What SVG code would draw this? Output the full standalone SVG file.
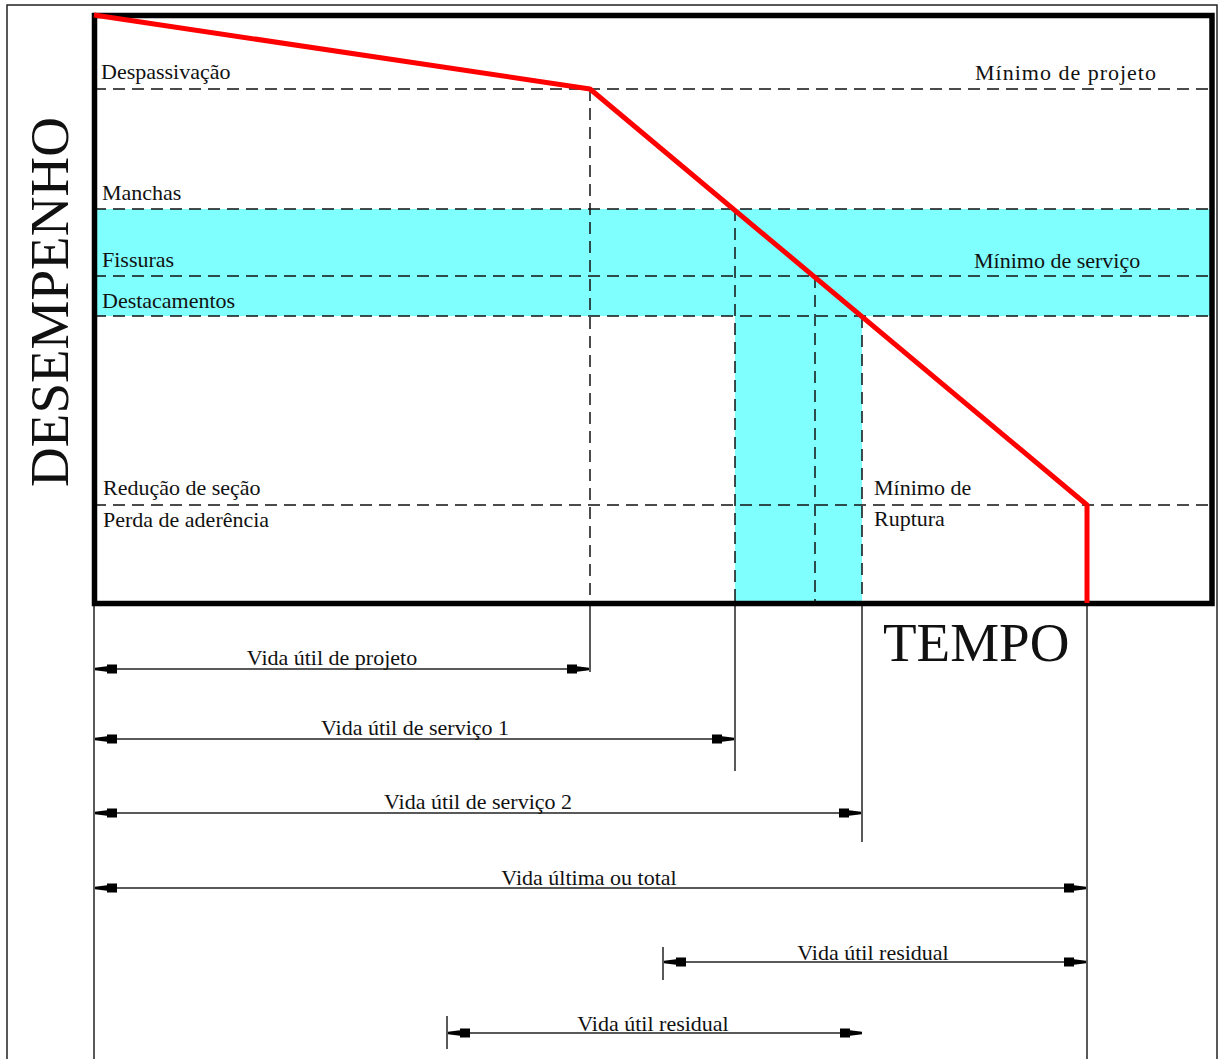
<svg xmlns="http://www.w3.org/2000/svg" width="1219" height="1059" viewBox="0 0 1219 1059">
<style>
text{font-family:"Liberation Serif","Times New Roman",serif;fill:#111;font-size:22px}
.big{font-size:55px}
.dash{stroke:#111;stroke-width:1.5;stroke-dasharray:12 7;fill:none}
.ext{stroke:#222;stroke-width:1.5;fill:none}
.dim{stroke:#222;stroke-width:1.5;fill:none;marker-start:url(#arr);marker-end:url(#arr)}
.red{stroke:#ff0000;stroke-width:5;fill:none;stroke-linejoin:round}
</style>
<defs>
<marker id="arr" markerUnits="userSpaceOnUse" viewBox="-24 -6 26 12" refX="0" refY="0" markerWidth="26" markerHeight="12" orient="auto-start-reverse">
<path d="M0,-1.2 L-12,-2.8 L-12,-4.5 L-22,-4.5 L-22,4.5 L-12,4.5 L-12,2.8 L0,1.2 Z" fill="#000"/>
</marker>
</defs>
<rect x="7" y="5" width="1210" height="1070" fill="#fff" stroke="#222" stroke-width="1.5"/>
<g id="bands">
<rect x="94" y="209" width="1118" height="107" fill="#80ffff"/>
<rect x="735" y="316" width="127" height="287" fill="#80ffff"/>
</g>
<g id="connectors">
<g id="grid">
<line class="dash" x1="94" y1="89" x2="1212" y2="89"/>
<line class="dash" x1="94" y1="209" x2="1212" y2="209"/>
<line class="dash" x1="94" y1="276" x2="1212" y2="276"/>
<line class="dash" x1="94" y1="316" x2="1212" y2="316"/>
<line class="dash" x1="94" y1="505" x2="1212" y2="505"/>
<line class="dash" x1="590" y1="89" x2="590" y2="603"/>
<line class="dash" x1="735" y1="209" x2="735" y2="603"/>
<line class="dash" x1="815" y1="276" x2="815" y2="603"/>
<line class="dash" x1="862" y1="316" x2="862" y2="603"/>
</g>
<g id="extensions">
<line class="ext" x1="94" y1="603" x2="94" y2="1059"/>
<line class="ext" x1="590" y1="603" x2="590" y2="672"/>
<line class="ext" x1="735" y1="603" x2="735" y2="771"/>
<line class="ext" x1="862" y1="603" x2="862" y2="842"/>
<line class="ext" x1="1087" y1="603" x2="1087" y2="1059"/>
<line class="ext" x1="663" y1="947" x2="663" y2="980"/>
<line class="ext" x1="447" y1="1016" x2="447" y2="1049"/>
</g>
<g id="dims">
<line class="dim" x1="95" y1="669" x2="589" y2="669"/>
<line class="dim" x1="95" y1="739" x2="734" y2="739"/>
<line class="dim" x1="95" y1="813" x2="861" y2="813"/>
<line class="dim" x1="95" y1="888" x2="1086" y2="888"/>
<line class="dim" x1="664" y1="962" x2="1086" y2="962"/>
<line class="dim" x1="448" y1="1033" x2="862" y2="1033"/>
</g>
</g>
<rect id="frame" x="94.5" y="15.5" width="1117.5" height="588" fill="none" stroke="#000" stroke-width="5.5"/>
<polyline id="curve" class="red" points="94,15 590,89 1087,505 1087,603"/>
<g id="labels">
<text x="101" y="79">Despassivação</text>
<text x="975" y="80" letter-spacing="1">Mínimo de projeto</text>
<text x="102" y="200">Manchas</text>
<text x="102" y="267">Fissuras</text>
<text x="974" y="268">Mínimo de serviço</text>
<text x="102" y="308">Destacamentos</text>
<text x="103" y="495">Redução de seção</text>
<text x="103" y="527">Perda de aderência</text>
<text x="874" y="495">Mínimo de</text>
<text x="874" y="526">Ruptura</text>
<text class="big" x="883" y="661">TEMPO</text>
<text class="big" transform="translate(68,302) rotate(-90)" text-anchor="middle">DESEMPENHO</text>
</g>
<g id="dimlabels" text-anchor="middle">
<text x="332" y="665">Vida útil de projeto</text>
<text x="415" y="735">Vida útil de serviço 1</text>
<text x="478" y="809">Vida útil de serviço 2</text>
<text x="589" y="885">Vida última ou total</text>
<text x="873" y="960">Vida útil residual</text>
<text x="653" y="1031">Vida útil residual</text>
</g>
</svg>
